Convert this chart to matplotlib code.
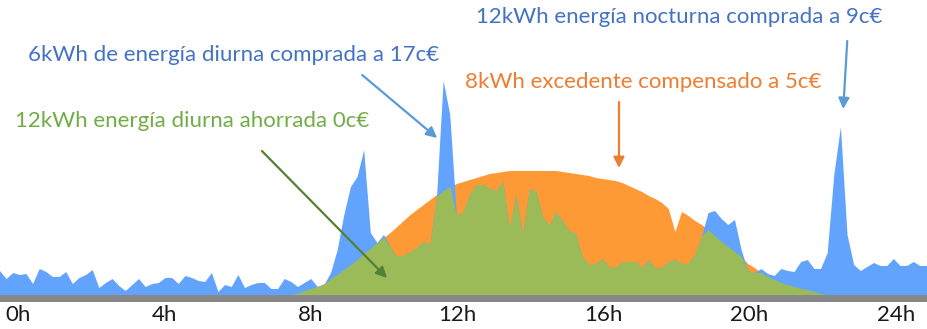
import numpy as np
import matplotlib
matplotlib.use("Agg")
import matplotlib.pyplot as plt

# Perfil diario (kW), una muestra cada ~11 minutos
consumo = [
    0.24, 0.16, 0.22, 0.20, 0.21, 0.11, 0.26, 0.23, 0.18, 0.18,
    0.23, 0.11, 0.17, 0.20, 0.25, 0.07, 0.12, 0.16, 0.09, 0.04,
    0.10, 0.16, 0.08, 0.11, 0.12, 0.17, 0.17, 0.11, 0.19, 0.17,
    0.14, 0.13, 0.22, 0.03, 0.10, 0.08, 0.20, 0.07, 0.10, 0.12,
    0.12, 0.06, 0.06, 0.16, 0.13, 0.08, 0.12, 0.16, 0.08, 0.10,
    0.22, 0.45, 0.80, 1.08, 1.18, 1.45, 0.62, 0.52, 0.60, 0.48,
    0.38, 0.39, 0.43, 0.47, 0.53, 0.50, 0.98, 2.14, 1.80, 0.80,
    0.82, 1.00, 1.10, 1.10, 1.06, 1.04, 1.13, 0.66, 1.00, 0.60,
    1.05, 1.04, 0.78, 0.69, 0.83, 0.74, 0.64, 0.61, 0.38, 0.30,
    0.31, 0.36, 0.28, 0.27, 0.33, 0.33, 0.33, 0.27, 0.35, 0.27,
    0.27, 0.33, 0.35, 0.31, 0.31, 0.40, 0.58, 0.82, 0.84, 0.76,
    0.70, 0.75, 0.45, 0.24, 0.22, 0.26, 0.21, 0.19, 0.26, 0.24,
    0.23, 0.33, 0.35, 0.26, 0.26, 0.42, 1.20, 1.68, 0.60, 0.30,
    0.24, 0.28, 0.32, 0.29, 0.29, 0.36, 0.29, 0.29, 0.33, 0.29,
    0.29,
]

produccion = [0.0] * 45 + [
    0.01, 0.04, 0.06, 0.08, 0.11, 0.16, 0.20, 0.25, 0.30, 0.35,
    0.41, 0.46, 0.52, 0.57, 0.62, 0.68, 0.74, 0.80, 0.85, 0.90,
    0.95, 1.00, 1.04, 1.08, 1.11, 1.13, 1.15, 1.17, 1.19, 1.21,
    1.22, 1.23, 1.24, 1.24, 1.24, 1.24, 1.24, 1.24, 1.24, 1.24,
    1.23, 1.22, 1.21, 1.20, 1.19, 1.17, 1.16, 1.15, 1.14, 1.12,
    1.09, 1.06, 1.03, 0.99, 0.96, 0.92, 0.86, 0.63, 0.83, 0.79,
    0.74, 0.70, 0.65, 0.59, 0.53, 0.48, 0.43, 0.38, 0.31, 0.27,
    0.22, 0.18, 0.15, 0.12, 0.10, 0.08, 0.06, 0.05, 0.03, 0.01,
] + [0.0] * 16

horas = -0.49 + np.arange(len(consumo)) * 0.181
consumo = np.array(consumo)
produccion = np.array(produccion)
autoconsumo = np.minimum(consumo, produccion)

ticks_h = [0, 4, 8, 12, 16, 20, 24]
ticks_txt = [f"{h}h" for h in ticks_h]

AZUL = "#62A3FE"
NARANJA = "#FE9A36"
VERDE = "#9BBB59"

plt.rcParams["font.family"] = ["Lato", "DejaVu Sans"]

fig = plt.figure(figsize=(9.27, 3.29), dpi=100)
ax = fig.add_axes([0, 27 / 329, 1, 302 / 329])

ax.fill_between(horas, 0, produccion, color=NARANJA, lw=0, zorder=1)
ax.fill_between(horas, 0, consumo, color=AZUL, lw=0, zorder=2)
ax.fill_between(horas, 0, autoconsumo, color=VERDE, lw=0, zorder=3)
ax.axhspan(-0.07, 0, color="#888888", lw=0, zorder=4)

ax.set_xlim(horas[0], horas[-1])
ax.set_ylim(-0.07, 2.95)
ax.set_xticks(ticks_h)
ax.set_xticklabels(ticks_txt, fontsize=16, color="#1a1a1a")
ax.tick_params(axis="x", length=0, pad=2.5)
ax.set_yticks([])
for s in ax.spines.values():
    s.set_visible(False)

def flecha(texto, xy, xytext, color_txt, color_flecha, pos_txt):
    ax.annotate("", xy=xy, xytext=xytext,
                arrowprops=dict(arrowstyle="-|>", color=color_flecha, lw=1.6,
                                mutation_scale=16, shrinkA=0, shrinkB=0),
                zorder=6)
    ax.text(pos_txt[0], pos_txt[1], texto, color=color_txt, fontsize=16,
            ha="left", va="center", zorder=6)

flecha("12kWh energía nocturna comprada a 9c€", (22.56, 1.86), (22.67, 2.54),
       "#4472C4", "#5B9BD5", (12.52, 2.78))
flecha("6kWh de energía diurna comprada a 17c€", (11.46, 1.57), (9.41, 2.20),
       "#4472C4", "#5B9BD5", (0.28, 2.40))
flecha("8kWh excedente compensado a 5c€", (16.43, 1.27), (16.43, 1.93),
       "#ED7D31", "#ED7D31", (12.22, 2.13))
flecha("12kWh energía diurna ahorrada 0c€", (10.09, 0.17), (6.67, 1.44),
       "#70AD47", "#548235", (-0.08, 1.74))

fig.savefig("out.png", dpi=100)
